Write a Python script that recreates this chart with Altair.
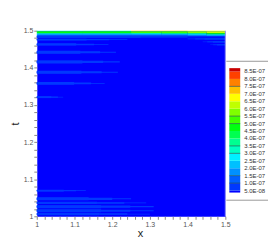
import altair as alt
import pandas as pd

FONT = "Liberation Sans"

# ---- legend levels (bottom -> top) ----
levels = ["5.0E-08", "1.0E-07", "1.5E-07", "2.0E-07", "2.5E-07", "3.0E-07",
          "3.5E-07", "4.0E-07", "4.5E-07", "5.0E-07", "5.5E-07", "6.0E-07",
          "6.5E-07", "7.0E-07", "7.5E-07", "8.0E-07", "8.5E-07"]
band_colors = ["#0038ff", "#0060ff", "#0090ff", "#00c0ff", "#00f0ff", "#00ffc0",
               "#00ff90", "#00ff50", "#00ff10", "#40ff00", "#80ff00", "#c0ff00",
               "#ffff00", "#ffc000", "#ff8000", "#ff4000"]
low_color = "#0000ff"
high_color = "#c80000"
low_ext = -0.27
high_ext = 16.45
contour_levels = ["1.0E-07", "1.5E-07", "3.0E-07", "3.5E-07", "5.0E-07", "5.5E-07", "7.5E-07"]

# ---- streaks anchored at x = 1 (t centre, half thickness, x end, band) ----
streak_t = [1.4835, 1.476, 1.463, 1.442, 1.416, 1.388, 1.358, 1.321,
            1.069, 1.047, 1.036, 1.026, 1.015, 1.006]
streak_half = [0.0025, 0.0025, 0.003, 0.004, 0.004, 0.004, 0.0035, 0.0025,
               0.0025, 0.004, 0.003, 0.004, 0.004, 0.003]
streak_x_end = [1.50, 1.24, 1.19, 1.21, 1.22, 1.215, 1.18, 1.07,
                1.13, 1.25, 1.29, 1.31, 1.31, 1.30]
streak_band = [0, 0, 0, 0, 0, 0, 0, 0,
               0, 0, 0, 0, 0, 0]

# ---- streaks anchored at x = 1.5 ----
right_t = [1.478, 1.470, 1.462]
right_half = [0.002, 0.002, 0.0015]
right_x_start = [1.40, 1.44, 1.46]
right_band = [0, 0, 0]

# ---- top strip (coarse cells) ----
strip_x = [1.0, 1.12, 1.25, 1.33, 1.40, 1.45, 1.5]
strip_t = [1.5, 1.4985, 1.4935, 1.4905, 1.4875, 1.4855]
strip_bands = [
    [4, 5, 13, 13, 12, 12],
    [8, 8, 9, 9, 10, 11],
    [5, 5, 5, 6, 6, 8],
    [3, 3, 3, 3, 4, 5],
    [1, 1, 1, 1, 2, 3],
]

major_ticks = [1.0, 1.1, 1.2, 1.3, 1.4, 1.5]
minor_ticks = [round(1 + 0.02 * i, 2) for i in range(26)]

# taper profile of a streak: (fraction of length, fraction of thickness)
taper = [(1.0, 0.35), (0.8, 0.7), (0.55, 1.0)]

rows = []
for t, h, xe, b in zip(streak_t, streak_half, streak_x_end, streak_band):
    for fl, fh in taper:
        rows.append(dict(x0=1.0, x1=1.0 + (xe - 1.0) * fl, t0=t - h * fh, t1=t + h * fh, band=b))
for t, h, xs, b in zip(right_t, right_half, right_x_start, right_band):
    for fl, fh in taper:
        rows.append(dict(x0=1.5 - (1.5 - xs) * fl, x1=1.5, t0=t - h * fh, t1=t + h * fh, band=b))
for r, line in enumerate(strip_bands):
    for c, b in enumerate(line):
        rows.append(dict(x0=strip_x[c], x1=strip_x[c + 1],
                         t0=strip_t[r + 1], t1=strip_t[r], band=b))
df = pd.DataFrame(rows)

W, H = 190, 187
label_expr = "abs(datum.value*10 - round(datum.value*10)) < 0.001 ? datum.label : ''"

xscale = alt.Scale(domain=[1, 1.5], nice=False, zero=False)
yscale = alt.Scale(domain=[1, 1.5], nice=False, zero=False)

common = dict(format=".2~f", labelExpr=label_expr, labelOverlap=False,
              domain=False, grid=False, tickSize=3, tickColor="#888",
              labelFontSize=7, labelColor="#555", labelPadding=1,
              labelFont=FONT, titleFont=FONT, titleFontSize=11,
              titleFontWeight="normal", titleColor="#222")

x_axis = alt.Axis(values=minor_ticks, titlePadding=0, titleX=104, labelFlush=False, **common)
y_axis = alt.Axis(values=minor_ticks, titlePadding=3, **common)

rects = alt.Chart(df).mark_rect(strokeWidth=0).encode(
    x=alt.X("x0:Q", scale=xscale, title="x", axis=x_axis),
    x2="x1:Q",
    y=alt.Y("t0:Q", scale=yscale, title="t", axis=y_axis),
    y2="t1:Q",
    color=alt.Color("band:O", scale=alt.Scale(domain=list(range(16)), range=band_colors),
                    legend=None),
)

edge = alt.Chart(pd.DataFrame({"x": [1.5]})).mark_rule(color="#a8a8f0", strokeWidth=1).encode(
    x=alt.X("x:Q", scale=xscale, title="x", axis=x_axis)
)

main = alt.layer(rects, edge).properties(
    width=W, height=H, view=alt.ViewBackground(fill="#0000ff", stroke="transparent")
)

# ---- legend panel ----
leg_rows = [dict(lo=low_ext, hi=0, col=low_color)]
for k, c in enumerate(band_colors):
    leg_rows.append(dict(lo=k, hi=k + 1, col=c))
leg_rows.append(dict(lo=16, hi=high_ext, col=high_color))
leg_df = pd.DataFrame(leg_rows)
lab_df = pd.DataFrame({"i": list(range(len(levels))), "label": levels})
line_df = pd.DataFrame({"i": [levels.index(v) for v in contour_levels]})

lscale = alt.Scale(domain=[-3.46, 21.48], nice=False, zero=False)

bar = alt.Chart(leg_df).mark_rect(strokeWidth=0).encode(
    y=alt.Y("lo:Q", scale=lscale, axis=None), y2="hi:Q",
    x=alt.value(3), x2=alt.value(14),
    color=alt.Color("col:N", scale=None),
)
clines = alt.Chart(line_df).mark_rule(color="#1a4a4a", strokeWidth=0.8, opacity=0.8).encode(
    y=alt.Y("i:Q", scale=lscale, axis=None), x=alt.value(3), x2=alt.value(14)
)
labels = alt.Chart(lab_df).mark_text(align="left", baseline="middle", fontSize=6,
                                      color="#333", font=FONT).encode(
    y=alt.Y("i:Q", scale=lscale, axis=None), x=alt.value(18), text="label:N"
)
seps = alt.Chart(pd.DataFrame({"p": [30.8, 170.8]})).mark_rule(color="#999", strokeWidth=1).encode(
    y=alt.Y("p:Q", scale=None), x=alt.value(0), x2=alt.value(42)
)
legend = alt.layer(bar, clines, labels, seps).properties(
    width=42, height=H, view=alt.ViewBackground(stroke="transparent")
)

chart = alt.hconcat(main, legend, spacing=1, bounds="flush").properties(
    padding={"left": 0, "top": 17, "right": 0, "bottom": 0}
).configure_view(stroke="transparent")

chart.save("out.html", embed_options={"renderer": "svg", "actions": False})
